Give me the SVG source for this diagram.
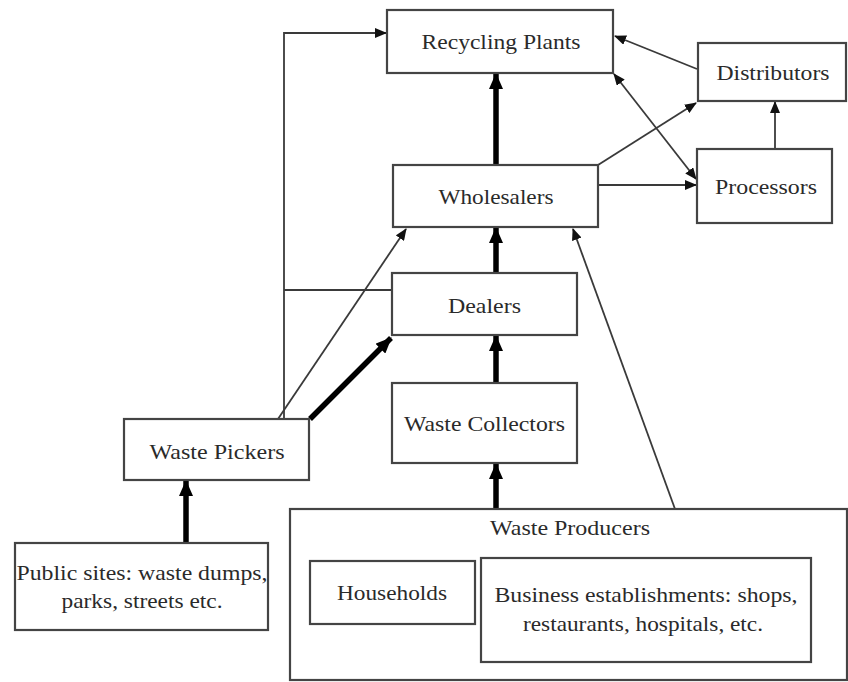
<svg xmlns="http://www.w3.org/2000/svg" width="848" height="682" viewBox="0 0 848 682">
<style>
.box{fill:#fff;stroke:#444;stroke-width:2.2}
.t{font-family:"Liberation Serif","Times New Roman",serif;font-size:21px;fill:#2a2a2a;text-anchor:middle;dominant-baseline:central}
.thin{fill:none;stroke:#3a3a3a;stroke-width:1.8}
.thick{fill:none;stroke:#000;stroke-width:5.5}
</style>
<defs>
<marker id="a" viewBox="0 0 12 10" refX="11" refY="5" markerWidth="12" markerHeight="10" markerUnits="userSpaceOnUse" orient="auto-start-reverse">
<path d="M0,0 L12,5 L0,10 z" fill="#111"/>
</marker>
<marker id="A" viewBox="0 0 16 14" refX="15" refY="7" markerWidth="16" markerHeight="14" markerUnits="userSpaceOnUse" orient="auto">
<path d="M0,0 L16,7 L0,14 z" fill="#000"/>
</marker>
</defs>
<rect width="848" height="682" fill="#fff"/>
<g id="connectors">
<path class="thin" d="M284,419 V33 H386" marker-end="url(#a)"/>
<path class="thin" d="M392,290 H284"/>
<path class="thin" d="M278,419 L406,229" marker-end="url(#a)"/>
<path class="thick" d="M310,419 L391,338" marker-end="url(#A)"/>
<path class="thick" d="M496,165 V74" marker-end="url(#A)"/>
<path class="thick" d="M496,273 V228" marker-end="url(#A)"/>
<path class="thick" d="M496,383 V336" marker-end="url(#A)"/>
<path class="thick" d="M496,509 V464" marker-end="url(#A)"/>
<path class="thick" d="M186,543 V481" marker-end="url(#A)"/>
<path class="thin" d="M675,509 L573,229" marker-end="url(#a)"/>
<path class="thin" d="M598,185 H696" marker-end="url(#a)"/>
<path class="thin" d="M598,165 L696,103" marker-end="url(#a)"/>
<path class="thin" d="M614,74 L696,179" marker-start="url(#a)" marker-end="url(#a)"/>
<path class="thin" d="M697,69 L615,36" marker-end="url(#a)"/>
<path class="thin" d="M775,149 V102" marker-end="url(#a)"/>
</g>
<g id="recycling-plants">
<rect class="box" x="387" y="10" width="226" height="63"/>
<text class="t" x="501" y="42" textLength="159" lengthAdjust="spacingAndGlyphs">Recycling Plants</text>
</g>
<g id="distributors">
<rect class="box" x="698" y="43" width="148" height="58"/>
<text class="t" x="773" y="73" textLength="113" lengthAdjust="spacingAndGlyphs">Distributors</text>
</g>
<g id="processors">
<rect class="box" x="697" y="149" width="135" height="74"/>
<text class="t" x="766" y="187" textLength="102" lengthAdjust="spacingAndGlyphs">Processors</text>
</g>
<g id="wholesalers">
<rect class="box" x="393" y="165" width="205" height="62"/>
<text class="t" x="496" y="197" textLength="115" lengthAdjust="spacingAndGlyphs">Wholesalers</text>
</g>
<g id="dealers">
<rect class="box" x="392" y="273" width="185" height="62"/>
<text class="t" x="484.5" y="306" textLength="73" lengthAdjust="spacingAndGlyphs">Dealers</text>
</g>
<g id="waste-collectors">
<rect class="box" x="392" y="383" width="185" height="80"/>
<text class="t" x="484.5" y="424" textLength="161" lengthAdjust="spacingAndGlyphs">Waste Collectors</text>
</g>
<g id="waste-pickers">
<rect class="box" x="124" y="419" width="185" height="61"/>
<text class="t" x="217" y="452" textLength="135" lengthAdjust="spacingAndGlyphs">Waste Pickers</text>
</g>
<g id="public-sites">
<rect class="box" x="15" y="543" width="253" height="87"/>
<text class="t" x="142" y="573" textLength="251" lengthAdjust="spacingAndGlyphs">Public sites: waste dumps,</text>
<text class="t" x="142" y="601" textLength="161" lengthAdjust="spacingAndGlyphs">parks, streets etc.</text>
</g>
<g id="waste-producers">
<rect class="box" x="290" y="509" width="557" height="171"/>
<text class="t" x="570" y="528" textLength="160" lengthAdjust="spacingAndGlyphs">Waste Producers</text>
</g>
<g id="households">
<rect class="box" x="310" y="561" width="165" height="63"/>
<text class="t" x="392" y="593" textLength="110" lengthAdjust="spacingAndGlyphs">Households</text>
</g>
<g id="business-establishments">
<rect class="box" x="481" y="558" width="330" height="104"/>
<text class="t" x="646" y="595" textLength="303" lengthAdjust="spacingAndGlyphs">Business establishments: shops,</text>
<text class="t" x="643" y="624" textLength="240" lengthAdjust="spacingAndGlyphs">restaurants, hospitals, etc.</text>
</g>
</svg>
